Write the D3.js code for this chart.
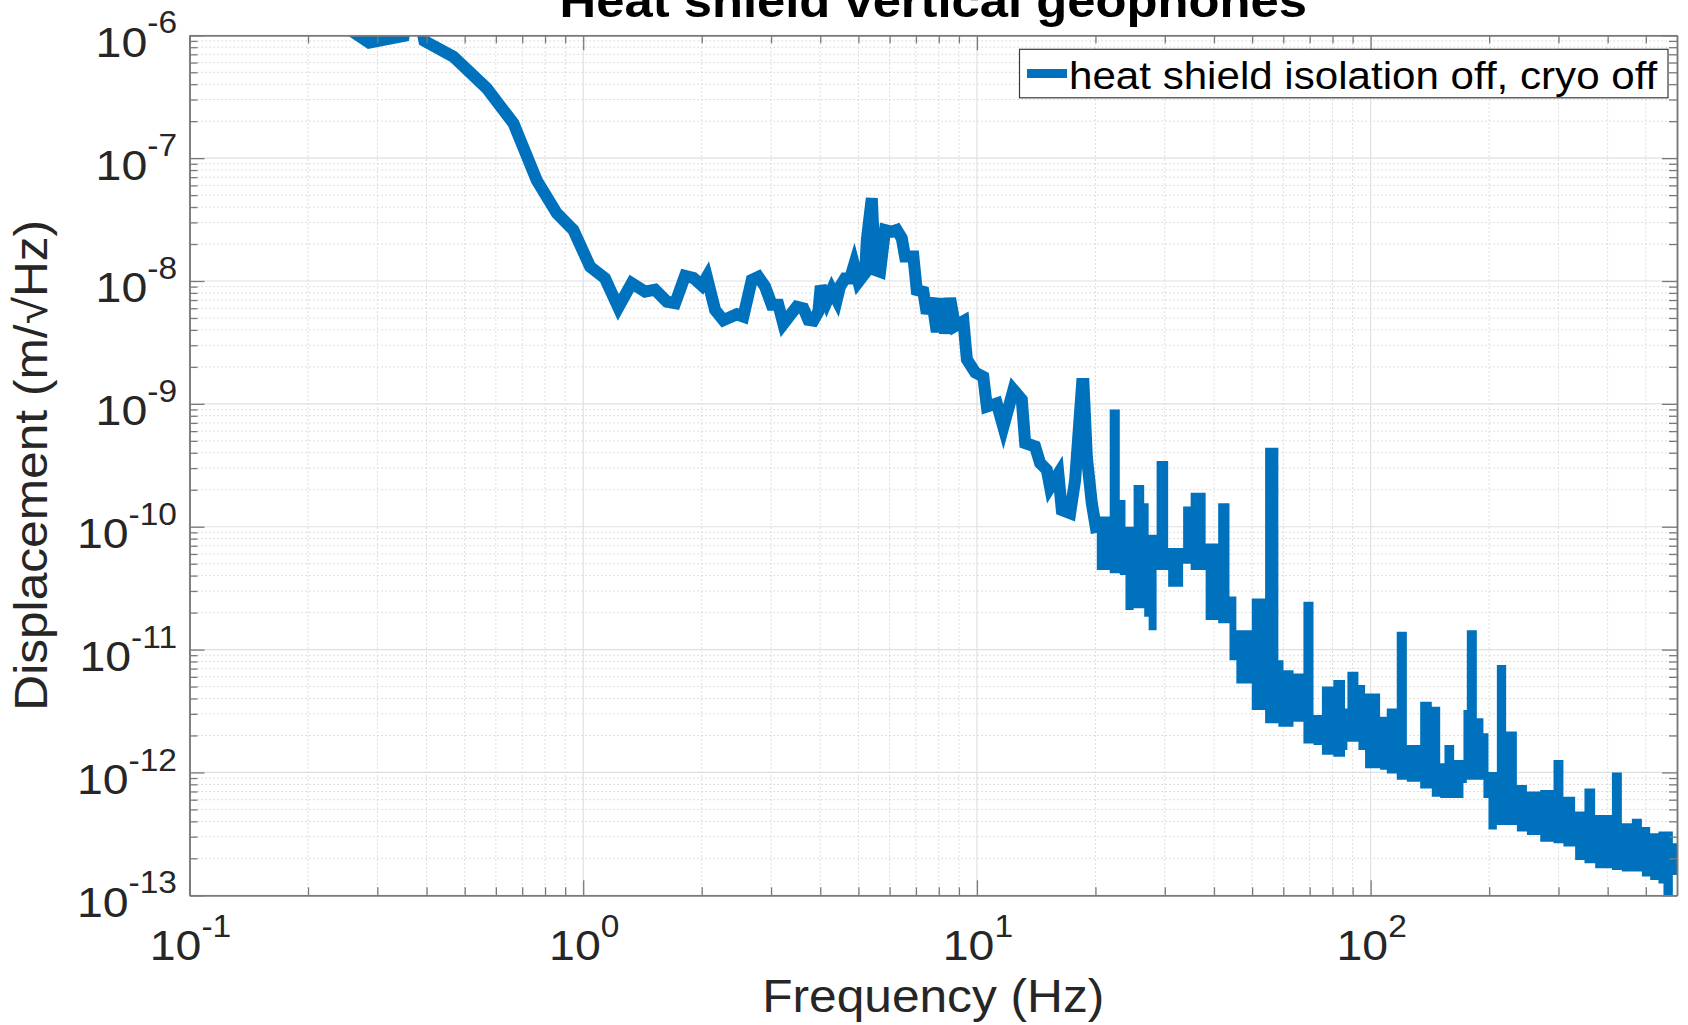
<!DOCTYPE html>
<html>
<head>
<meta charset="utf-8">
<script src="https://cdn.jsdelivr.net/npm/d3@7"></script>
<style>
  body { margin: 0; background: #fff; }
  text { font-family: "Liberation Sans", Arial, Helvetica, sans-serif; }
</style>
</head>
<body>
<div id="chart"></div>
<script>
//- Data
//  resolved part of the trace (Hz, m/rtHz)
const lineFreq = [0.19, 0.286, 0.35, 0.37, 0.395, 0.468, 0.569, 0.665, 0.762, 0.857, 0.944, 1.041,
    1.136, 1.228, 1.328, 1.436, 1.522, 1.631, 1.712, 1.814, 1.905, 2.0, 2.06, 2.163, 2.27, 2.455,
    2.551, 2.68, 2.786, 2.897, 3.012, 3.13, 3.224, 3.486, 3.624, 3.731, 3.842, 3.956, 4.012, 4.155,
    4.279, 4.406, 4.49, 4.624, 4.762, 4.875, 5.0, 5.2, 5.252, 5.407, 5.512, 5.675, 5.844, 6.077,
    6.257, 6.443, 6.569, 6.896, 7.034, 7.311, 7.458, 7.679, 7.907, 8.141, 8.3, 8.547, 8.8, 9.24,
    9.43, 9.9, 10.38, 10.6, 11.23, 11.67, 12.38, 13.0, 13.26, 14.05, 14.47, 15.05, 15.34, 16.1,
    16.43, 17.25, 17.76, 18.5, 18.65, 19.02, 19.58, 20.16];
const lineAsd = [2.1e-6, 8.7e-7, 9.9e-7, 2.5e-6, 9.0e-7, 6.7e-7, 3.7e-7, 1.92e-7, 6.6e-8, 3.56e-8, 2.6e-8, 1.31e-8,
    1.05e-8, 6.1e-9, 9.6e-9, 8.2e-9, 8.5e-9, 6.8e-9, 6.6e-9, 1.1e-8, 1.06e-8, 9.2e-9, 1.08e-8, 5.8e-9, 4.8e-9, 5.36e-9,
    5.13e-9, 1.02e-8, 1.08e-8, 9.0e-9, 6.4e-9, 6.4e-9, 4.47e-9, 6.18e-9, 6.0e-9, 4.82e-9, 4.75e-9, 5.62e-9, 9.1e-9, 6.79e-9,
    8.45e-9, 7.02e-9, 8.99e-9, 1.05e-8, 1.05e-8, 1.35e-8, 9.86e-9, 1.16e-8, 2.16e-8, 4.71e-8, 1.23e-8, 1.19e-8, 2.6e-8, 2.52e-8,
    2.6e-8, 2.23e-8, 1.58e-8, 1.58e-8, 8.45e-9, 8.18e-9, 5.46e-9, 7.23e-9, 3.86e-9, 7.23e-9, 3.75e-9, 7.23e-9, 4.3e-9, 4.7e-9,
    2.3e-9, 1.8e-9, 1.66e-9, 9.5e-10, 1.01e-9, 6.5e-10, 1.3e-9, 1.08e-9, 4.8e-10, 4.5e-10, 3.3e-10, 2.9e-10, 2.1e-10, 2.7e-10,
    1.37e-10, 1.29e-10, 2.4e-10, 1.45e-9, 1.45e-9, 3.7e-10, 1.55e-10, 8.9e-11];

//  dense part of the trace: each step starts at bandFreq and holds to the next one
const bandFreq = [20.16, 21.74, 23.06, 23.84, 25.0, 26.6, 27.3, 28.6, 30.6, 33.4, 34.9, 38.1, 41.0, 43.8,
    45.6, 49.9, 53.95, 58.3, 60.06, 63.7, 67.5, 71.6, 75.2, 80.4, 86.1, 87.3, 93.1, 96.8, 105.7, 109.9,
    116.5, 123.6, 133.6, 143.0, 150.2, 154.0, 163.0, 172.1, 175.5, 186.1, 193.4, 199.2, 209.2, 220.9,
    235.2, 249.4, 269.6, 291.4, 308.8, 330.7, 349.2, 371.8, 410, 434.6, 460.8, 488.6, 512.9, 538.4,
    554.3, 585.6, 610];
const bandTop = [1.21e-10, 9.0e-10, 1.65e-10, 1.0e-10, 2.19e-10, 1.55e-10, 8.6e-11, 3.43e-10, 6.7e-11, 1.46e-10,
    1.89e-10, 7.3e-11, 1.55e-10, 2.7e-11, 1.44e-11, 2.6e-11, 4.4e-10, 8.2e-12, 6.8e-12, 6.4e-12, 2.45e-11,
    2.94e-12, 5.0e-12, 5.65e-12, 3.32e-12, 6.6e-12, 5.15e-12, 4.4e-12, 2.84e-12, 3.32e-12, 1.4e-11, 1.67e-12,
    3.77e-12, 3.43e-12, 1.19e-12, 1.67e-12, 1.26e-12, 3.22e-12, 1.44e-11, 2.76e-12, 2.08e-12, 1.01e-12,
    7.5e-12, 2.15e-12, 7.9e-13, 7.0e-13, 7.2e-13, 1.26e-12, 6.35e-13, 4.8e-13, 7.4e-13, 4.5e-13, 1.0e-12,
    3.86e-13, 4.2e-13, 3.6e-13, 3.2e-13, 3.3e-13, 3.3e-13, 2.65e-13, 2.65e-13];
const bandBottom = [4.45e-11, 4.18e-11, 4.05e-11, 2.1e-11, 2.17e-11, 1.85e-11, 1.44e-11, 4.45e-11, 3.25e-11, 5.0e-11,
    4.45e-11, 1.74e-11, 1.64e-11, 8.2e-12, 5.3e-12, 3.22e-12, 2.51e-12, 2.36e-12, 2.36e-12, 2.59e-12, 1.72e-12,
    1.67e-12, 1.39e-12, 1.34e-12, 1.52e-12, 1.78e-12, 1.52e-12, 1.08e-12, 1.05e-12, 9.8e-13, 8.7e-13, 8.4e-13,
    7.4e-13, 6.35e-13, 6.2e-13, 6.2e-13, 6.2e-13, 8.2e-13, 8.7e-13, 8.7e-13, 6.2e-13, 3.44e-13, 3.74e-13,
    3.74e-13, 3.3e-13, 3.1e-13, 2.73e-13, 2.65e-13, 2.49e-13, 1.94e-13, 1.82e-13, 1.66e-13, 1.61e-13, 1.56e-13,
    1.56e-13, 1.42e-13, 1.33e-13, 1.25e-13, 9.0e-14, 1.46e-13, 1.46e-13];

//- Axis ticks
const xMajor = [0.1, 1, 10, 100];
const xExponents = ["-1", "0", "1", "2"];
const yMajor = [1e-13, 1e-12, 1e-11, 1e-10, 1e-9, 1e-8, 1e-7, 1e-6];
const yExponents = ["-13", "-12", "-11", "-10", "-9", "-8", "-7", "-6"];

const titleText = "Heat shield vertical geophones";
const xLabelText = "Frequency (Hz)";
const yLabelText = "Displacement (m/\u221AHz)";
const legendText = "heat shield isolation off, cryo off";


//- Layout
const W = 1688, H = 1025;
const plot = { left: 189.5, right: 1677, top: 35.3, bottom: 895.3 };
const STRETCH = 1.08;          // text in the picture is a little wider than Arial
const LINECOLOR = "#0072BD";
const LINEWIDTH = 12;
const AXISCOLOR = "#7a7a7a";
const TEXTCOLOR = "#262626";

const svg = d3.select("#chart").append("svg")
    .attr("width", W)
    .attr("height", H);

const x = d3.scaleLog().domain([0.1, 600]).range([plot.left, plot.right]);
const y = d3.scaleLog().domain([1e-13, 1e-6]).range([plot.bottom, plot.top]);

function minorValues(lo, hi) {
    // 2..9 times each decade that falls strictly inside the domain
    let out = [];
    for (let e = Math.floor(Math.log10(lo)); e <= Math.ceil(Math.log10(hi)); e++) {
        for (let m = 2; m <= 9; m++) {
            let v = m * Math.pow(10, e);
            if (v > lo * 1.0001 && v < hi * 0.9999) out.push(v);
        }
    }
    return out;
}
const xMinor = minorValues(0.1, 600);
const yMinor = minorValues(1e-13, 1e-6);


//-- Grid
const grid = svg.append("g");

grid.selectAll(".xminor").data(xMinor).enter().append("line")
    .attr("x1", d => x(d)).attr("x2", d => x(d))
    .attr("y1", plot.top).attr("y2", plot.bottom)
    .attr("stroke", "#d4d4d4").attr("stroke-width", 1).attr("stroke-dasharray", "1.5,2.5");

grid.selectAll(".yminor").data(yMinor).enter().append("line")
    .attr("x1", plot.left).attr("x2", plot.right)
    .attr("y1", d => y(d)).attr("y2", d => y(d))
    .attr("stroke", "#d4d4d4").attr("stroke-width", 1).attr("stroke-dasharray", "1.5,2.5");

grid.selectAll(".xmajor").data(xMajor).enter().append("line")
    .attr("x1", d => x(d)).attr("x2", d => x(d))
    .attr("y1", plot.top).attr("y2", plot.bottom)
    .attr("stroke", "#e0e0e0").attr("stroke-width", 1.2);

grid.selectAll(".ymajor").data(yMajor).enter().append("line")
    .attr("x1", plot.left).attr("x2", plot.right)
    .attr("y1", d => y(d)).attr("y2", d => y(d))
    .attr("stroke", "#e0e0e0").attr("stroke-width", 1.2);


//-- Data
svg.append("clipPath").attr("id", "plotclip")
    .append("rect")
    .attr("x", plot.left).attr("y", plot.top)
    .attr("width", plot.right - plot.left).attr("height", plot.bottom - plot.top);

const dataGroup = svg.append("g").attr("clip-path", "url(#plotclip)");

const lineRows = lineFreq.map((f, i) => ({ f: f, v: lineAsd[i] }));
const bandRows = bandFreq.map((f, i) => ({ f: f, hi: bandTop[i], lo: bandBottom[i] }));

dataGroup.append("path")
    .datum(bandRows)
    .attr("fill", LINECOLOR)
    .attr("d", d3.area()
        .x(d => x(d.f))
        .y0(d => y(d.lo))
        .y1(d => y(d.hi))
        .curve(d3.curveStepAfter));

dataGroup.append("path")
    .datum(lineRows)
    .attr("fill", "none")
    .attr("stroke", LINECOLOR)
    .attr("stroke-width", LINEWIDTH)
    .attr("stroke-linejoin", "miter")
    .attr("d", d3.line().x(d => x(d.f)).y(d => y(d.v)));


//-- Axes (ticks point inward on all four sides)
function drawAxis(axis, tx, ty) {
    let g = svg.append("g")
        .attr("transform", `translate(${tx}, ${ty})`)
        .attr("color", AXISCOLOR)
        .call(axis);
    g.selectAll("line").attr("stroke-width", 1.3);
    g.selectAll("path").attr("stroke-width", 1.5);
    return g;
}

drawAxis(d3.axisBottom(x).tickValues(xMinor).tickSizeInner(-8).tickSizeOuter(0).tickFormat(""), 0, plot.bottom);
drawAxis(d3.axisBottom(x).tickValues(xMajor).tickSizeInner(-15).tickSizeOuter(0).tickFormat(""), 0, plot.bottom);
drawAxis(d3.axisTop(x).tickValues(xMinor).tickSizeInner(-8).tickSizeOuter(0).tickFormat(""), 0, plot.top);
drawAxis(d3.axisTop(x).tickValues(xMajor).tickSizeInner(-15).tickSizeOuter(0).tickFormat(""), 0, plot.top);
drawAxis(d3.axisLeft(y).tickValues(yMinor).tickSizeInner(-8).tickSizeOuter(0).tickFormat(""), plot.left, 0);
drawAxis(d3.axisLeft(y).tickValues(yMajor).tickSizeInner(-15).tickSizeOuter(0).tickFormat(""), plot.left, 0);
drawAxis(d3.axisRight(y).tickValues(yMinor).tickSizeInner(-8).tickSizeOuter(0).tickFormat(""), plot.right, 0);
drawAxis(d3.axisRight(y).tickValues(yMajor).tickSizeInner(-15).tickSizeOuter(0).tickFormat(""), plot.right, 0);


//-- Tick labels: 10 with superscript exponent
function powerLabel(parent, px, py, exponent, anchor) {
    let t = parent.append("g")
        .attr("transform", `translate(${px}, ${py}) scale(${STRETCH}, 1)`)
        .append("text")
        .attr("text-anchor", anchor)
        .attr("fill", TEXTCOLOR)
        .attr("font-size", 43);
    t.append("tspan").text("10");
    t.append("tspan").attr("dy", -23.3).attr("font-size", 31).text(exponent);
}

const labels = svg.append("g");
yMajor.forEach((v, i) => powerLabel(labels, 177, y(v) + 21.4, yExponents[i], "end"));
xMajor.forEach((v, i) => powerLabel(labels, x(v) + 1, plot.bottom + 64.7, xExponents[i], "middle"));


//-- Title and axis labels
const midX = (plot.left + plot.right) / 2;
const midY = (plot.top + plot.bottom) / 2;

svg.append("g")
    .attr("transform", `translate(${midX}, 16.5) scale(${STRETCH}, 1)`)
    .append("text")
    .attr("text-anchor", "middle")
    .attr("font-size", 47)
    .attr("font-weight", "bold")
    .attr("fill", "#000")
    .text(titleText);

svg.append("g")
    .attr("transform", `translate(${midX}, 1012) scale(${STRETCH}, 1)`)
    .append("text")
    .attr("text-anchor", "middle")
    .attr("font-size", 46)
    .attr("fill", TEXTCOLOR)
    .text(xLabelText);

svg.append("g")
    .attr("transform", `translate(46.7, ${midY}) rotate(-90) scale(${STRETCH}, 1)`)
    .append("text")
    .attr("text-anchor", "middle")
    .attr("font-size", 46)
    .attr("fill", TEXTCOLOR)
    .text(yLabelText);


//-- Legend
const legend = svg.append("g");

legend.append("rect")
    .attr("x", 1019.5).attr("y", 49.3)
    .attr("width", 648.5).attr("height", 48.5)
    .attr("fill", "#fff")
    .attr("stroke", "#3a3a3a")
    .attr("stroke-width", 1.2);

legend.append("line")
    .attr("x1", 1027).attr("x2", 1067)
    .attr("y1", 73.5).attr("y2", 73.5)
    .attr("stroke", LINECOLOR)
    .attr("stroke-width", 9);

legend.append("g")
    .attr("transform", `translate(1069, 88.5) scale(${STRETCH}, 1)`)
    .append("text")
    .attr("font-size", 39)
    .attr("fill", "#000")
    .text(legendText);
</script>
</body>
</html>
